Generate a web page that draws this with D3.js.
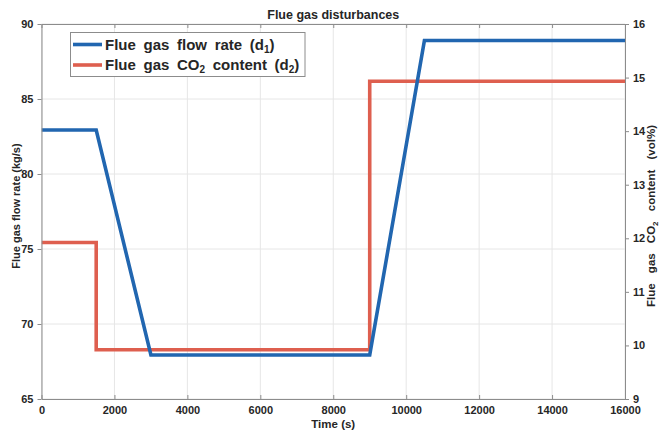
<!DOCTYPE html>
<html><head><meta charset="utf-8">
<script src="https://cdn.jsdelivr.net/npm/d3@7"></script>
<style>
body{margin:0;background:#fff;}
svg text{font-family:"Liberation Sans",Arial,sans-serif;font-weight:bold;fill:#262626;}
</style></head>
<body><svg id="c" width="659" height="431"></svg>
<script>
const flowTime = [0, 1500, 3000, 9000, 10500, 16000];
const flowRate = [82.93, 82.93, 67.93, 67.93, 88.9, 88.9];
const co2Time = [0, 1500, 1500, 9000, 9000, 16000];
const co2Content = [11.92, 11.92, 9.92, 9.92, 14.93, 14.93];
const xTicks = [0, 2000, 4000, 6000, 8000, 10000, 12000, 14000, 16000];
const yLeftTicks = [65, 70, 75, 80, 85, 90];
const yRightTicks = [9, 10, 11, 12, 13, 14, 15, 16];

const svg = d3.select("#c");
const L = 41.5, R = 625, T = 24, B = 399;
const x = d3.scaleLinear().domain([0, 16000]).range([L, R]);
const yL = d3.scaleLinear().domain([65, 90]).range([B, T]);
const yR = d3.scaleLinear().domain([9, 16]).range([B, T]);
const blue = "#2166b0", red = "#de5f4f";

// grid
const g = svg.append("g");
g.selectAll(".gx").data(xTicks).enter().append("line")
  .attr("x1", d => x(d)).attr("x2", d => x(d)).attr("y1", T).attr("y2", B)
  .attr("stroke", "#e6e6e6").attr("stroke-width", 1);
g.selectAll(".gy").data(yLeftTicks).enter().append("line")
  .attr("x1", L).attr("x2", R).attr("y1", d => yL(d)).attr("y2", d => yL(d))
  .attr("stroke", "#e6e6e6").attr("stroke-width", 1);

// lines
svg.append("clipPath").attr("id", "clp").append("rect")
  .attr("x", L).attr("y", T).attr("width", R - L).attr("height", B - T);
const lineFlow = d3.line().x((d, i) => x(flowTime[i])).y(d => yL(d));
const lineCo2 = d3.line().x((d, i) => x(co2Time[i])).y(d => yR(d));
svg.append("path").attr("d", lineCo2(co2Content)).attr("fill", "none")
  .attr("stroke", red).attr("stroke-width", 3.6).attr("clip-path", "url(#clp)");
svg.append("path").attr("d", lineFlow(flowRate)).attr("fill", "none")
  .attr("stroke", blue).attr("stroke-width", 3.6).attr("clip-path", "url(#clp)");

// axes
function style(sel) {
  sel.select(".domain").attr("stroke", "#8c8c8c");
  sel.selectAll(".tick line").attr("stroke", "#8c8c8c");
  sel.selectAll(".tick text").style("font-size", "11px").attr("fill", "#262626");
}
const xb = svg.append("g").attr("transform", `translate(0,${B})`)
  .call(d3.axisBottom(x).tickValues(xTicks).tickFormat(d3.format("d")).tickSizeInner(-4).tickSizeOuter(0).tickPadding(7));
style(xb);
const xt = svg.append("g").attr("transform", `translate(0,${T})`)
  .call(d3.axisTop(x).tickValues(xTicks).tickFormat("").tickSizeInner(-4).tickSizeOuter(0));
style(xt);
const yl = svg.append("g").attr("transform", `translate(${L},0)`)
  .call(d3.axisLeft(yL).tickValues(yLeftTicks).tickFormat(d3.format("d")).tickSizeInner(4).tickSizeOuter(0).tickPadding(4));
style(yl);
const yr = svg.append("g").attr("transform", `translate(${R},0)`)
  .call(d3.axisRight(yR).tickValues(yRightTicks).tickFormat(d3.format("d")).tickSizeInner(4).tickSizeOuter(0).tickPadding(4));
style(yr);

// title & labels
svg.append("text").attr("x", (L + R) / 2).attr("y", 18.5).attr("text-anchor", "middle")
  .style("font-size", "12.5px").text("Flue gas disturbances");
svg.append("text").attr("x", (L + R) / 2).attr("y", 428).attr("text-anchor", "middle")
  .style("font-size", "11.5px").text("Time (s)");
svg.append("text").attr("transform", `translate(20,206) rotate(-90)`)
  .attr("text-anchor", "middle").style("font-size", "11px").text("Flue gas flow rate (kg/s)");
const rl = svg.append("text").attr("transform", `translate(655,216) rotate(-90)`)
  .attr("text-anchor", "middle").style("font-size", "11.5px").style("word-spacing", "7px");
rl.append("tspan").text("Flue gas CO");
rl.append("tspan").attr("dy", 3).style("font-size", "8px").text("2");
rl.append("tspan").attr("dy", -3).text(" content (vol%)");

// legend
const lg = svg.append("g");
lg.append("rect").attr("x", 70.5).attr("y", 32.5).attr("width", 234.5).attr("height", 44)
  .attr("fill", "#fff").attr("stroke", "#8c8c8c").attr("stroke-width", 1);
const items = [
  {c: blue, main: "Flue gas flow rate (d", sub: "1", end: ")"},
  {c: red, main: "Flue gas CO", sub: "2", end: " content (d", sub2: "2", end2: ")"}
];
items.forEach((it, i) => {
  const yy = 44.5 + i * 20.5;
  lg.append("line").attr("x1", 73).attr("x2", 102).attr("y1", yy).attr("y2", yy)
    .attr("stroke", it.c).attr("stroke-width", 3.6);
  const t = lg.append("text").attr("x", 105).attr("y", yy + 5)
    .style("font-size", "15px").style("word-spacing", "3.5px");
  t.append("tspan").text(it.main);
  t.append("tspan").attr("dy", 3).style("font-size", "10px").text(it.sub);
  t.append("tspan").attr("dy", -3).text(it.end);
  if (it.sub2) {
    t.append("tspan").attr("dy", 3).style("font-size", "10px").text(it.sub2);
    t.append("tspan").attr("dy", -3).text(it.end2);
  }
});
</script></body></html>
